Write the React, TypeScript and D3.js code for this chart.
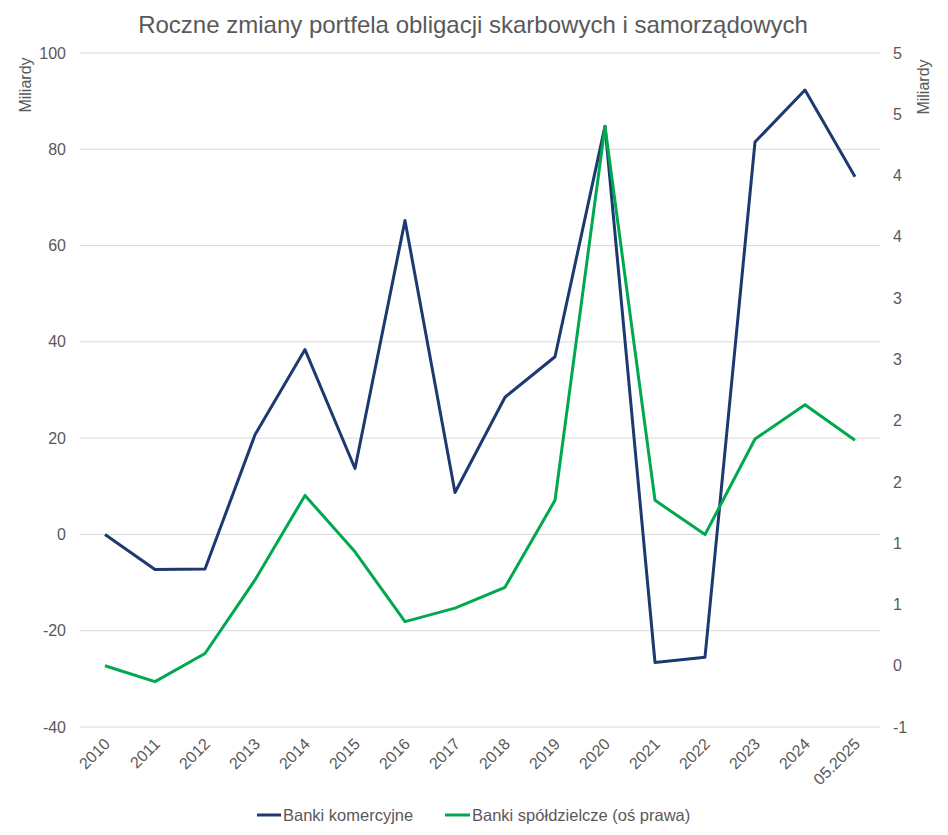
import * as d3 from 'd3';

const years = [
  '2010', '2011', '2012', '2013', '2014', '2015', '2016', '2017',
  '2018', '2019', '2020', '2021', '2022', '2023', '2024', '05.2025',
];

// Banki komercyjne (left axis, mld)
const commercial = [
  0, -7.3, -7.2, 20.7, 38.4, 13.7, 65.2, 8.7,
  28.5, 36.9, 84.8, -26.6, -25.5, 81.5, 92.3, 74.3,
];

// Banki spółdzielcze (right axis, mld)
const cooperative = [
  0.0, -0.13, 0.1, 0.7, 1.39, 0.93, 0.36, 0.47,
  0.64, 1.35, 4.4, 1.35, 1.07, 1.85, 2.13, 1.84,
];

const leftTicks = [-40, -20, 0, 20, 40, 60, 80, 100];
const rightTicks = [-0.5, 0, 0.5, 1, 1.5, 2, 2.5, 3, 3.5, 4, 4.5, 5];
const rightTickLabels = ['-1', '0', '1', '1', '2', '2', '3', '3', '4', '4', '5', '5'];

const W = 948;
const H = 835;
const left = 80;
const right = 880;
const top = 53;
const bottom = 727;

const BLUE = '#1c3a70';
const GREEN = '#00a94f';
const TEXT = '#595959';
const FONT = '"Liberation Sans", Arial, sans-serif';

export default function App() {
  const x = d3.scalePoint<string>().domain(years).range([left, right]).padding(0.5);
  const yL = d3.scaleLinear().domain([-40, 100]).range([bottom, top]);
  const yR = d3.scaleLinear().domain([-0.5, 5]).range([bottom, top]);

  const lineL = d3
    .line<number>()
    .x((_, i) => x(years[i]) ?? 0)
    .y((d) => yL(d));
  const lineR = d3
    .line<number>()
    .x((_, i) => x(years[i]) ?? 0)
    .y((d) => yR(d));

  return (
    <svg
      width={W}
      height={H}
      style={{ position: 'absolute', left: 0, top: 0, background: '#fff' }}
      fontFamily={FONT}
    >
      <text x={W / 2 - 1} y={33} textAnchor="middle" fontSize={24} fill={TEXT}>
        Roczne zmiany portfela obligacji skarbowych i samorządowych
      </text>

      {leftTicks.map((t) => (
        <line key={t} x1={left} x2={right} y1={yL(t)} y2={yL(t)} stroke="#d9d9d9" strokeWidth={1} />
      ))}

      {leftTicks.map((t) => (
        <text key={t} x={66} y={yL(t)} dy="0.35em" textAnchor="end" fontSize={16} fill={TEXT}>
          {t}
        </text>
      ))}
      {rightTicks.map((t, i) => (
        <text key={t} x={893} y={yR(t)} dy="0.35em" textAnchor="start" fontSize={16} fill={TEXT}>
          {rightTickLabels[i]}
        </text>
      ))}

      <text transform="translate(31,85) rotate(-90)" textAnchor="middle" fontSize={16} fill={TEXT}>
        Miliardy
      </text>
      <text transform="translate(929,87) rotate(-90)" textAnchor="middle" fontSize={16} fill={TEXT}>
        Miliardy
      </text>

      {years.map((yr) => (
        <text
          key={yr}
          transform={`translate(${(x(yr) ?? 0) + 6},${bottom + 18}) rotate(-45)`}
          textAnchor="end"
          fontSize={16}
          fill={TEXT}
        >
          {yr}
        </text>
      ))}

      <path d={lineL(commercial) ?? ''} fill="none" stroke={BLUE} strokeWidth={3} strokeLinejoin="round" />
      <path d={lineR(cooperative) ?? ''} fill="none" stroke={GREEN} strokeWidth={3} strokeLinejoin="round" />

      <g fontSize={16.5} fill={TEXT}>
        <line x1={257} x2={281} y1={815} y2={815} stroke={BLUE} strokeWidth={3} />
        <text x={283} y={815} dy="0.35em">Banki komercyjne</text>
        <line x1={445} x2={470} y1={815} y2={815} stroke={GREEN} strokeWidth={3} />
        <text x={472} y={815} dy="0.35em">Banki spółdzielcze (oś prawa)</text>
      </g>
    </svg>
  );
}
